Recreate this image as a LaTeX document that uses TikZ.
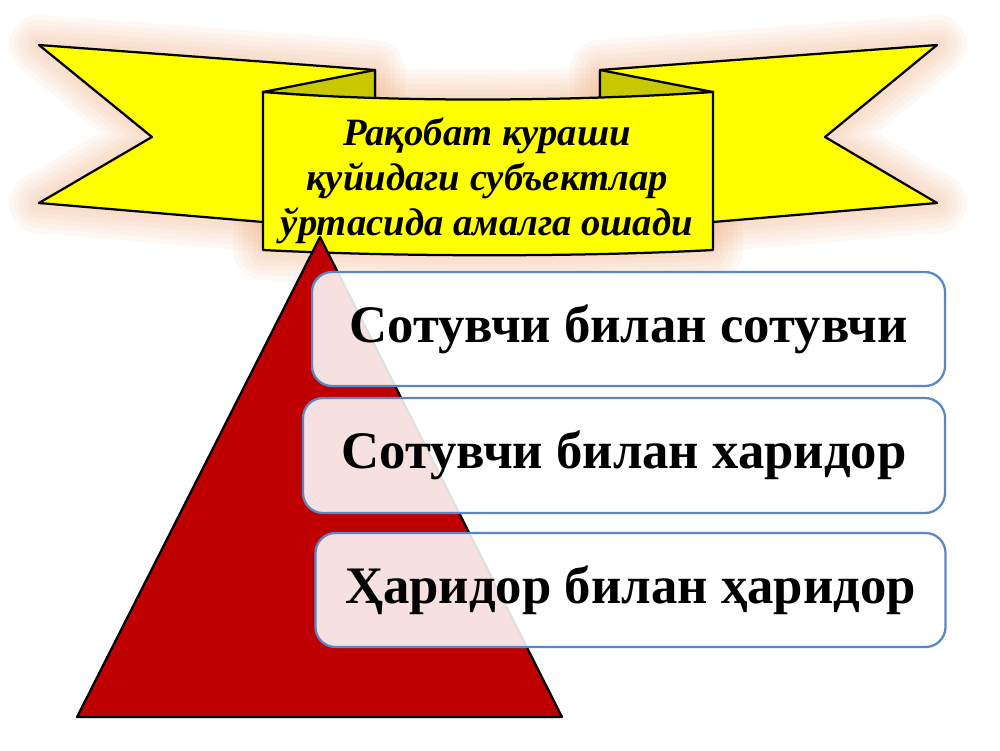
\documentclass[tikz,border=0pt]{standalone}
\usepackage{fontspec}
\setmainfont{Liberation Serif}
\usetikzlibrary{positioning}
\definecolor{BannerYellow}{HTML}{FFFF00}
\definecolor{FoldOlive}{HTML}{C8C800}
\definecolor{PyramidRed}{HTML}{BE0000}
\definecolor{FrameBlue}{HTML}{5B86C5}
\definecolor{GlowPeach}{HTML}{EFA878}
\begin{document}
\begin{tikzpicture}[x=0.2mm,y=-0.2mm,line join=round,
 tailL/.style={insert path={(39,45)--(375,70)--(375,222)--(263,222)--(39,203)--(152,137)--cycle}},
 tailR/.style={insert path={(937,45)--(600,70)--(600,222)--(713,222)--(937,203)--(825,137)--cycle}},
 scroll/.style={insert path={(263,92) .. controls (400,103) and (580,101) .. (713,92)
                -- (713,250) .. controls (580,257) and (400,257) .. (263,250) -- cycle}},
 outline/.style={draw=black,line width=0.45mm},
 glow/.style={draw=GlowPeach,line width=#1,opacity=0.08},
 rung/.style={draw=FrameBlue,line width=0.45mm,fill=white,fill opacity=0.88,text opacity=1,
              rounded corners=4mm,inner sep=0pt,
              font=\fontsize{30}{34}\selectfont\bfseries}]
\useasboundingbox (0,0) rectangle (1000,750);
\foreach \w in {12mm,10mm,8mm,6mm,4mm,2mm}{
  \path[glow=\w,tailL];
  \path[glow=\w,tailR];
  \path[glow=\w,scroll];
}
\path[outline,fill=BannerYellow,tailL];
\path[outline,fill=BannerYellow,tailR];
\draw[outline,fill=FoldOlive] (263,92) -- (375,70) -- (375,100) -- cycle;
\draw[outline,fill=FoldOlive] (713,92) -- (600,70) -- (600,100) -- cycle;
\path[outline,fill=BannerYellow,scroll];
\draw[outline,fill=PyramidRed] (320,237) -- (562,717) -- (77,717) -- cycle;
\node[align=center,font=\fontsize{22}{25.5}\selectfont\bfseries\itshape] (title) at (487,181)
  {Рақобат кураши\\қуйидаги субъектлар\\ўртасида амалга ошади};
\node[rung,minimum width=126.6mm,minimum height=22.8mm] (sell) at (628.5,329) {Сотувчи билан сотувчи};
\node[rung,minimum width=128.4mm,minimum height=23mm] (mixed) at (624,455.5) {Сотувчи билан харидор};
\node[rung,minimum width=126mm,minimum height=22.8mm] (buy) at (630.5,590) {Ҳаридор билан ҳаридор};
\end{tikzpicture}
\end{document}
